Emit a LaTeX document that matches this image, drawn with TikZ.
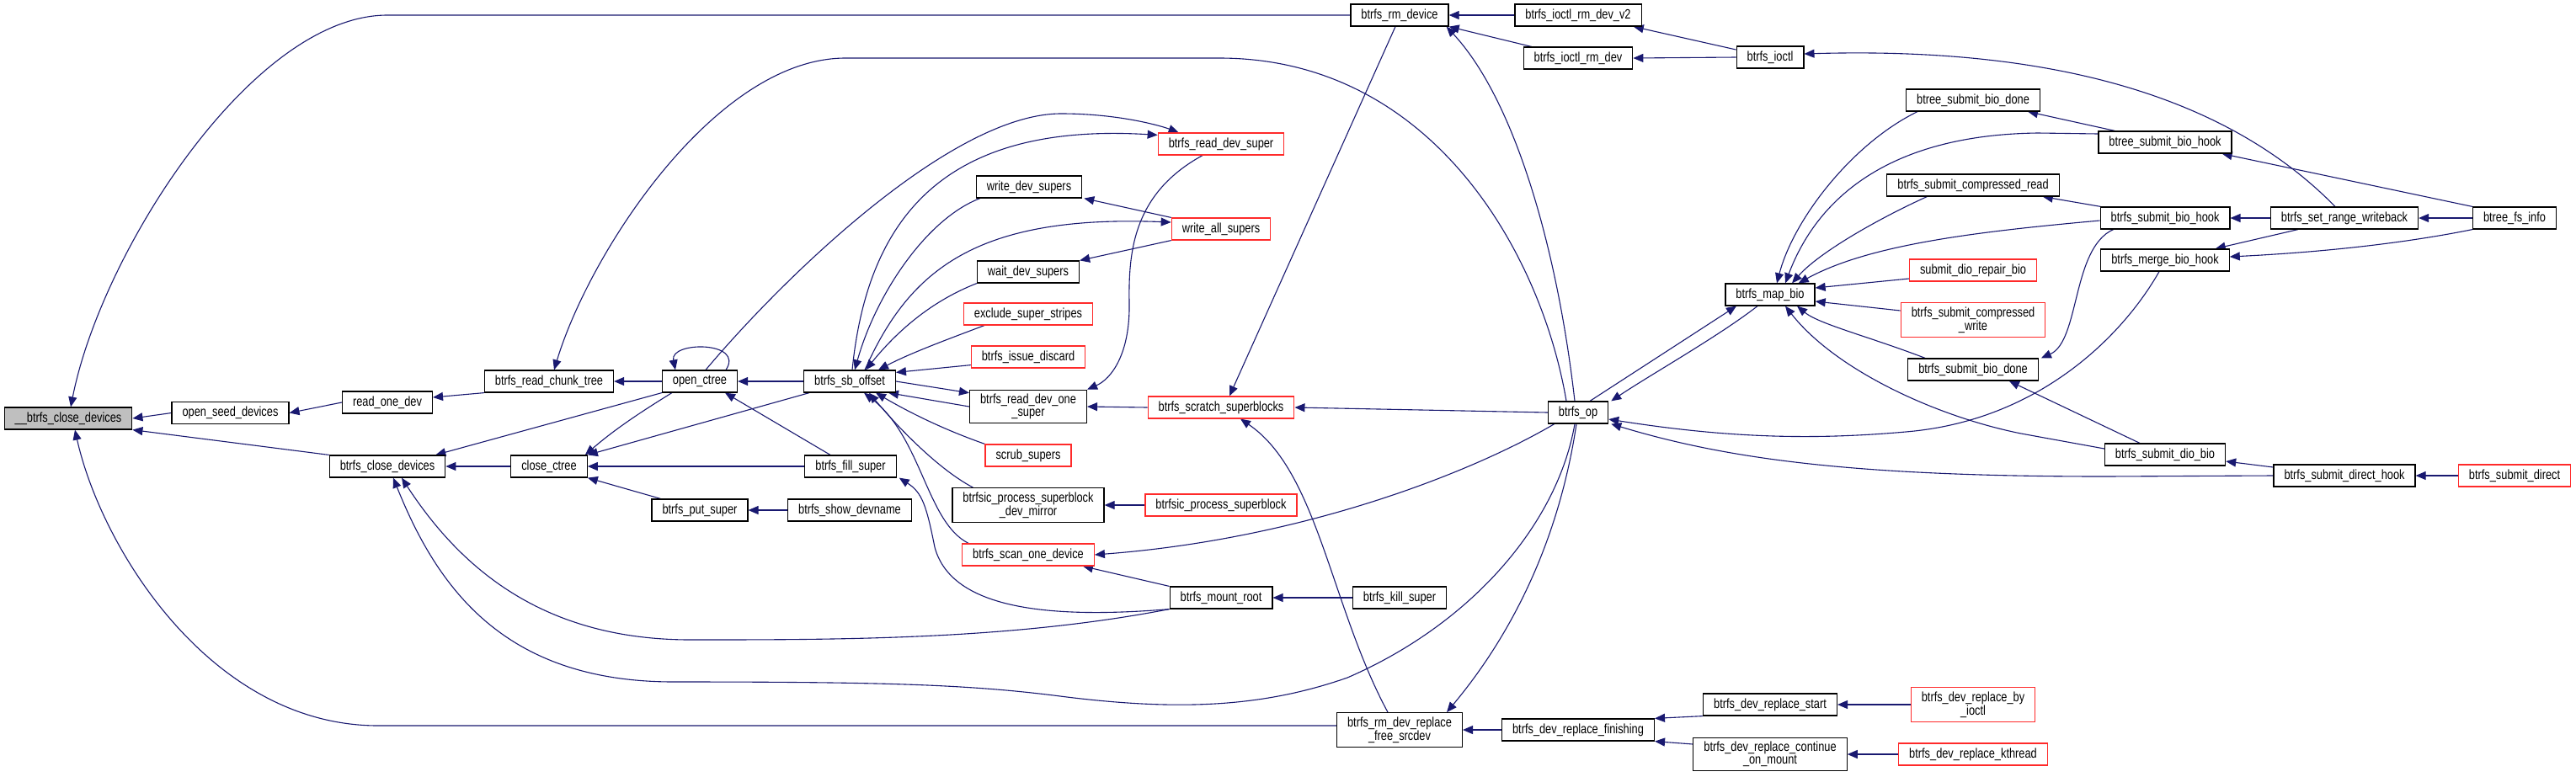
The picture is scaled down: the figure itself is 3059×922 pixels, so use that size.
\documentclass[tikz,border=0pt]{standalone}
\usepackage{fontspec}
\setmainfont{Liberation Sans}[FakeStretch=0.8]
\usetikzlibrary{arrows.meta,calc}
\definecolor{edgec}{HTML}{191970}
\definecolor{redc}{HTML}{FF2A2A}
\definecolor{rootfill}{HTML}{BFBFBF}
\pgfdeclarelayer{bg}
\pgfsetlayers{bg,main}
\tikzset{
 fn/.style={draw=black, line width=1.2pt, fill=white, inner xsep=12.5pt, inner ysep=5pt, minimum height=26pt, font=\fontsize{16}{14.5}\selectfont, align=center},
 fnred/.style={fn, draw=redc},
 fnroot/.style={fn, fill=rootfill},
 e/.style={draw=edgec, line width=1.1pt, -{Triangle[length=12pt,width=10pt]}},
}
\begin{document}
\begin{tikzpicture}[x=1pt,y=-1pt]
\useasboundingbox (0,0) rectangle (3059,922);
\node[fnroot] (root) at (81,497) {\_\_btrfs\_close\_devices};
\node[fn] (osd) at (273.5,490.5) {open\_seed\_devices};
\node[fn] (rod) at (460,478) {read\_one\_dev};
\node[fn] (bcd) at (460,554) {btrfs\_close\_devices};
\node[fn] (cct) at (652,554) {close\_ctree};
\node[fn] (rct) at (652,453) {btrfs\_read\_chunk\_tree};
\node[fn] (oct) at (831,453) {open\_ctree};
\node[fn] (bps) at (831,606) {btrfs\_put\_super};
\node[fn] (bfs) at (1010,554) {btrfs\_fill\_super};
\node[fn] (bsd) at (1009,606) {btrfs\_show\_devname};
\node[fn] (sbo) at (1009,453) {btrfs\_sb\_offset};
\node[fn] (wds) at (1222,222) {write\_dev\_supers};
\node[fn] (wtd) at (1221,323) {wait\_dev\_supers};
\node[fnred] (ess) at (1221,373) {exclude\_super\_stripes};
\node[fnred] (bid) at (1221,424) {btrfs\_issue\_discard};
\node[fnred] (rds) at (1450,171) {btrfs\_read\_dev\_super};
\node[fnred] (was) at (1450,272) {write\_all\_supers};
\node[fn] (rdo) at (1221,483) {btrfs\_read\_dev\_one\\\_super};
\node[fnred] (ssb) at (1450,484) {btrfs\_scratch\_superblocks};
\node[fnred] (scs) at (1221,541) {scrub\_supers};
\node[fn] (pdm) at (1221,600) {btrfsic\_process\_superblock\\\_dev\_mirror};
\node[fnred] (psb) at (1450,600) {btrfsic\_process\_superblock};
\node[fnred] (sod) at (1221,659) {btrfs\_scan\_one\_device};
\node[fn] (bmr) at (1450,710) {btrfs\_mount\_root};
\node[fn] (bks) at (1662,710) {btrfs\_kill\_super};
\node[fn] (bop) at (1874,490) {btrfs\_op};
\node[fn] (frs) at (1662,867) {btrfs\_rm\_dev\_replace\\\_free\_srcdev};
\node[fn] (drf) at (1874,867) {btrfs\_dev\_replace\_finishing};
\node[fn] (drs) at (2102,837) {btrfs\_dev\_replace\_start};
\node[fn] (drc) at (2102,896) {btrfs\_dev\_replace\_continue\\\_on\_mount};
\node[fnred] (dri) at (2343,837) {btrfs\_dev\_replace\_by\\\_ioctl};
\node[fnred] (drk) at (2343,896) {btrfs\_dev\_replace\_kthread};
\node[fn] (rmd) at (1662,18) {btrfs\_rm\_device};
\node[fn] (rv2) at (1874,18) {btrfs\_ioctl\_rm\_dev\_v2};
\node[fn] (rmv) at (1874,69) {btrfs\_ioctl\_rm\_dev};
\node[fn] (ioc) at (2102,68) {btrfs\_ioctl};
\node[fn] (mab) at (2102,350) {btrfs\_map\_bio};
\node[fn] (tbd) at (2343,119) {btree\_submit\_bio\_done};
\node[fn] (scr) at (2343,220) {btrfs\_submit\_compressed\_read};
\node[fnred] (sdr) at (2343,321) {submit\_dio\_repair\_bio};
\node[fnred] (scw) at (2343,380) {btrfs\_submit\_compressed\\\_write};
\node[fn] (sbd) at (2343,439) {btrfs\_submit\_bio\_done};
\node[fn] (tbh) at (2571,169) {btree\_submit\_bio\_hook};
\node[fn] (sbh) at (2571,259) {btrfs\_submit\_bio\_hook};
\node[fn] (mbh) at (2571,309) {btrfs\_merge\_bio\_hook};
\node[fn] (srw) at (2784,259) {btrfs\_set\_range\_writeback};
\node[fn] (bfi) at (2986,259) {btree\_fs\_info};
\node[fn] (ddb) at (2571,540) {btrfs\_submit\_dio\_bio};
\node[fn] (sdh) at (2784,565) {btrfs\_submit\_direct\_hook};
\node[fnred] (sdi) at (2986,565) {btrfs\_submit\_direct};
\begin{pgfonlayer}{bg}
\fill[white] (0,0) rectangle (3059,922);
\draw[e] (osd.west) -- (root.east);
\draw[e] (bcd.north west) -- (root.south east);
\draw[e] (rmd.west) -- (460,18) .. controls (300,18) and (120,300) .. ($(root.north)+(3,0)$);
\draw[e] ($(frs.west)+(0,-5)$) -- (449,862) .. controls (250,862) and (120,650) .. ($(root.south)+(8,0)$);
\draw[e] (rod.west) -- (osd.east);
\draw[e] (rct.south west) -- ($(rod.east)+(0,-6)$);
\draw[e] (oct.west) -- (rct.east);
\draw[e] ($(bop.north)+(-14,0)$) .. controls (1830,300) and (1700,69) .. (1448,69) -- (1004,69) .. controls (850,69) and (700,300) .. ($(rct.north)+(6,0)$);
\draw[e] (cct.west) -- (bcd.east);
\draw[e] (oct.south west) -- ($(bcd.north east)+(-12,0)$);
\draw[e] (bmr.south west) .. controls (1200,760) and (1000,760) .. (820,760) .. controls (650,760) and (550,680) .. ($(bcd.south)+(17,0)$);
\draw[e] ($(bop.south)+(-4,0)$) .. controls (1850,620) and (1750,740) .. (1600,805) .. controls (1500,840) and (1400,845) .. (1259,827) .. controls (1150,813) and (1050,810) .. (800,810) .. controls (600,810) and (520,700) .. ($(bcd.south)+(7,0)$);
\draw[e] ($(bop.south)+(-2,0)$) .. controls (1850,650) and (1790,760) .. ($(frs.north east)+(-19,0)$);
\draw[e] ($(frs.north)+(-14,0)$) .. controls (1580,720) and (1565,560) .. ($(ssb.south)+(23,0)$);
\draw[e] ($(rmd.south)+(-5,0)$) -- ($(ssb.north)+(10,0)$);
\draw[e] ($(bop.north)+(-4,0)$) .. controls (1850,300) and (1800,120) .. ($(rmd.south east)+(-3,0)$);
\draw[e] (bop.west) -- (ssb.east);
\draw[e] ($(bop.south west)+(8,0)$) .. controls (1750,560) and (1550,640) .. (sod.east);
\draw[e] ($(bop.north)+(14,0)$) -- ($(mab.south)+(-40,0)$);
\draw[e] ($(mab.south)+(-15,0)$) .. controls (2040,400) and (1960,445) .. ($(bop.north east)+(3,0)$);
\draw[e] ($(mbh.south)+(-7,0)$) .. controls (2520,400) and (2420,500) .. (2263,513) .. controls (2150,523) and (2050,520) .. ($(bop.east)+(0,8)$);
\draw[e] (sdh.west) -- (2500,566) .. controls (2200,566) and (2050,545) .. ($(bop.south east)+(3,0)$);
\draw[e] (rv2.west) -- (rmd.east);
\draw[e] ($(rmv.north west)+(10,0)$) -- (rmd.south east);
\draw[e] ($(ioc.west)+(0,-9)$) -- ($(rv2.south east)+(-10,0)$);
\draw[e] (ioc.west) -- (rmv.east);
\draw[e] ($(srw.north)+(-11,0)$) .. controls (2650,120) and (2450,55) .. ($(ioc.east)+(0,-4)$);
\draw[e] ($(tbd.south west)+(14,0)$) .. controls (2200,170) and (2130,260) .. ($(mab.north)+(8,0)$);
\draw[e] ($(tbh.west)+(0,-10)$) -- (2420,158) .. controls (2250,160) and (2160,230) .. ($(mab.north)+(18,0)$);
\draw[e] ($(scr.south west)+(48,0)$) .. controls (2230,260) and (2160,300) .. ($(mab.north)+(26,0)$);
\draw[e] ($(sbh.west)+(0,3)$) .. controls (2350,275) and (2220,290) .. ($(mab.north east)+(-20,0)$);
\draw[e] ($(sdr.west)+(0,10)$) -- ($(mab.east)+(0,-8)$);
\draw[e] ($(scw.west)+(0,-11)$) -- ($(mab.east)+(0,8)$);
\draw[e] ($(sbd.north west)+(21,0)$) .. controls (2220,400) and (2160,385) .. ($(mab.south)+(32,0)$);
\draw[e] ($(ddb.west)+(0,-7)$) -- (2400,515) .. controls (2300,495) and (2180,440) .. ($(mab.south)+(18,0)$);
\draw[e] ($(tbh.north west)+(20,0)$) -- ($(tbd.south east)+(-15,0)$);
\draw[e] ($(sbh.north west)+(1,0)$) -- ($(scr.south east)+(-20,0)$);
\draw[e] ($(sbh.south west)+(16,0)$) .. controls (2460,295) and (2470,405) .. ($(sbd.north east)+(3,0)$);
\draw[e] (srw.west) -- (sbh.east);
\draw[e] (bfi.west) -- (srw.east);
\draw[e] (bfi.north west) -- ($(tbh.south east)+(-12,0)$);
\draw[e] (bfi.south west) .. controls (2850,290) and (2750,300) .. ($(mbh.east)+(0,-4)$);
\draw[e] ($(srw.south west)+(33,0)$) -- ($(mbh.north east)+(-17,0)$);
\draw[e] ($(ddb.north)+(-30,0)$) -- ($(sbd.south east)+(-35,0)$);
\draw[e] ($(sdh.west)+(0,-10)$) -- ($(ddb.east)+(0,8)$);
\draw[e] (sdi.west) -- (sdh.east);
\draw[e] (drf.west) -- (frs.east);
\draw[e] (drs.south west) -- (drf.north east);
\draw[e] ($(drc.west)+(0,-12)$) -- (drf.south east);
\draw[e] (dri.west) -- (drs.east);
\draw[e] (drk.west) -- (drc.east);
\draw[e] (bks.west) -- (bmr.east);
\draw[e] (sbo.west) -- (oct.east);
\draw[e] ($(oct.north)+(31,0)$) .. controls (885,405) and (795,405) .. ($(oct.north)+(-29,0)$);
\draw[e] ($(oct.north)+(7,0)$) .. controls (930,330) and (1130,135) .. (1260,135) .. controls (1330,135) and (1380,150) .. ($(rds.north west)+(25,0)$);
\draw[e] ($(sbo.north)+(3,0)$) .. controls (1030,260) and (1120,145) .. ($(rds.north west)+(0,3)$);
\draw[e] ($(wds.south west)+(5,0)$) .. controls (1100,260) and (1040,350) .. ($(sbo.north)+(6,0)$);
\draw[e] ($(sbo.north)+(18,0)$) .. controls (1080,320) and (1160,255) .. ($(was.west)+(0,-8)$);
\draw[e] (was.north west) -- ($(wds.south east)+(2,0)$);
\draw[e] (was.south west) -- (wtd.north east);
\draw[e] (wtd.south west) .. controls (1100,360) and (1060,400) .. ($(sbo.north)+(19,0)$);
\draw[e] ($(ess.south west)+(25,0)$) .. controls (1120,405) and (1080,420) .. ($(sbo.north)+(34,0)$);
\draw[e] ($(bid.south west)+(0,-4)$) -- ($(sbo.north east)+(0,3)$);
\draw[e] ($(rds.south)+(-22,0)$) .. controls (1345,230) and (1340,300) .. (1341,360) .. controls (1342,420) and (1320,450) .. (rdo.north east);
\draw[e] (sbo.east) -- ($(rdo.north west)+(0,4)$);
\draw[e] (rdo.west) -- ($(sbo.south east)+(-9,0)$);
\draw[e] (ssb.west) -- (rdo.east);
\draw[e] (scs.north west) .. controls (1120,510) and (1080,490) .. ($(sbo.south)+(31,0)$);
\draw[e] ($(pdm.north west)+(25,0)$) .. controls (1110,555) and (1060,500) .. ($(sbo.south)+(23,0)$);
\draw[e] ($(sod.north west)+(8,0)$) .. controls (1100,620) and (1095,520) .. ($(sbo.south)+(17,0)$);
\draw[e] (psb.west) -- (pdm.east);
\draw[e] (bmr.north west) -- ($(sod.south east)+(-14,0)$);
\draw[e] (bmr.south west) .. controls (1250,735) and (1130,725) .. (1110,650) .. controls (1100,600) and (1095,585) .. ($(bfs.south east)+(3,0)$);
\draw[e] ($(bfs.north)+(-24,0)$) -- ($(oct.south)+(30,0)$);
\draw[e] (bfs.west) -- (cct.east);
\draw[e] ($(sbo.south west)+(7,0)$) -- (cct.north east);
\draw[e] ($(oct.south west)+(12,0)$) .. controls (760,490) and (730,510) .. ($(cct.north east)+(-3,0)$);
\draw[e] ($(bps.north west)+(11,0)$) -- (cct.south east);
\draw[e] (bsd.west) -- (bps.east);
\end{pgfonlayer}
\end{tikzpicture}
\end{document}
